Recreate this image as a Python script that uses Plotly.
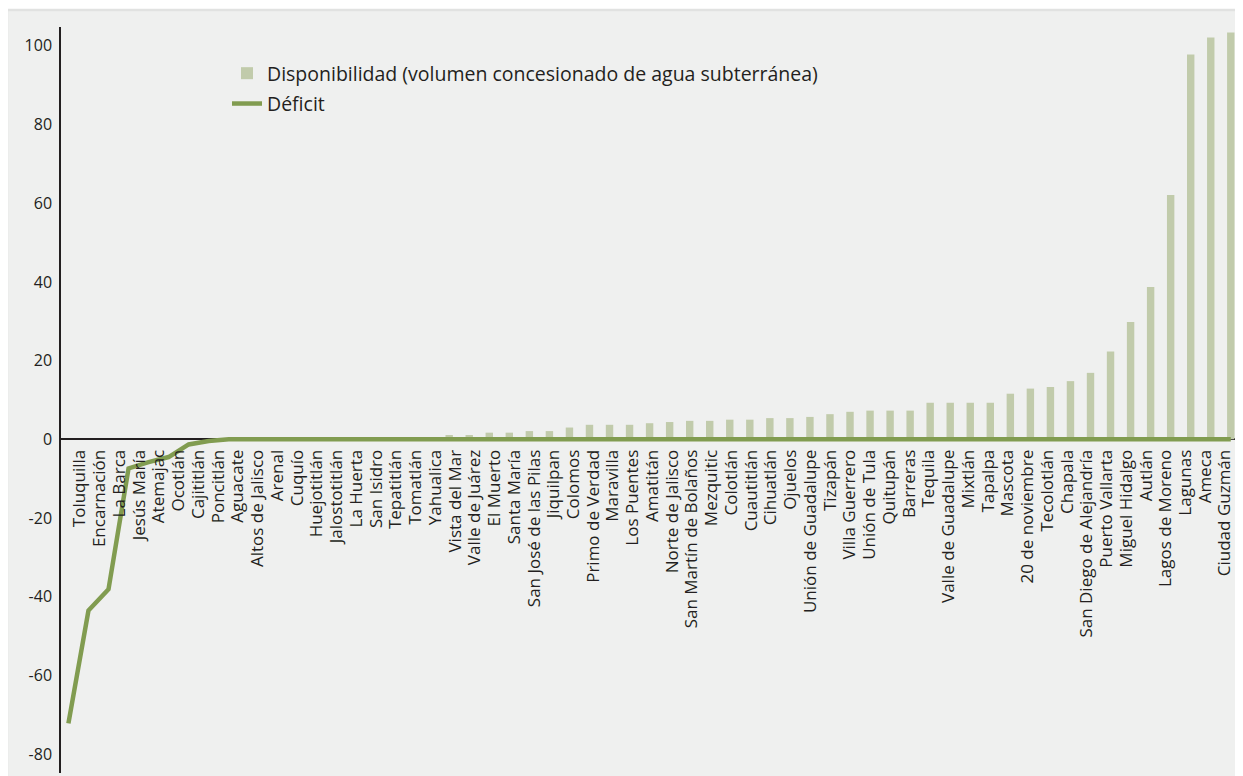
import plotly.graph_objects as go

categorias = [
    "Toluquilla", "Encarnación", "La Barca", "Jesús María", "Atemajac", "Ocotlán",
    "Cajititlán", "Poncitlán", "Aguacate", "Altos de Jalisco", "Arenal", "Cuquío",
    "Huejotitlán", "Jalostotitlán", "La Huerta", "San Isidro", "Tepatitlán", "Tomatlán",
    "Yahualica", "Vista del Mar", "Valle de Juárez", "El Muerto", "Santa María",
    "San José de las Pilas", "Jiquilpan", "Colomos", "Primo de Verdad", "Maravilla",
    "Los Puentes", "Amatitán", "Norte de Jalisco", "San Martín de Bolaños", "Mezquitic",
    "Colotlán", "Cuautitlán", "Cihuatlán", "Ojuelos", "Unión de Guadalupe", "Tizapán",
    "Villa Guerrero", "Unión de Tula", "Quitupán", "Barreras", "Tequila",
    "Valle de Guadalupe", "Mixtlán", "Tapalpa", "Mascota", "20 de noviembre",
    "Tecolotlán", "Chapala", "San Diego de Alejandría", "Puerto Vallarta",
    "Miguel Hidalgo", "Autlán", "Lagos de Moreno", "Lagunas", "Ameca", "Ciudad Guzmán",
]

disponibilidad = [
    0, 0, 0, 0, 0, 0, 0, 0, 0, 0, 0, 0, 0, 0, 0, 0, 0, 0, 0,
    1.1, 1.1, 1.7, 1.7, 2.1, 2.1, 3.0, 3.7, 3.7, 3.7, 4.1, 4.4, 4.7, 4.7,
    5.0, 5.0, 5.4, 5.4, 5.7, 6.4, 7.0, 7.3, 7.3, 7.3, 9.3, 9.3, 9.3, 9.3,
    11.6, 12.9, 13.3, 14.8, 16.9, 22.3, 29.8, 38.7, 62.1, 97.8, 102.1, 103.4,
]

deficit = [
    -72.2, -43.5, -38.1, -7.4, -5.8, -4.5, -1.3, -0.4,
] + [0] * 51

y_ticks = [-80, -60, -40, -20, 0, 20, 40, 60, 80, 100]
y_ticktext = [str(v) for v in y_ticks]

idx = list(range(len(categorias)))
# in the original, category labels sit on a slightly different pitch than the marks
label_pos = [0.574 + 0.9851 * i for i in idx]

BAR = "#c1cbab"
LINE = "#819c50"
BG = "#eff0ef"
TXT = "#231f20"
FONT = "Open Sans"

fig = go.Figure()
fig.add_trace(go.Bar(
    x=idx, y=disponibilidad, name="Disponibilidad (volumen concesionado de agua subterránea)",
    marker=dict(color=BAR, line=dict(width=0)), width=0.37, legendgroup="a",
))
fig.add_trace(go.Scatter(
    x=idx, y=deficit, name="Déficit", mode="lines",
    line=dict(color=LINE, width=4.5), legendgroup="b",
))

# page is offset by the 8px body margin
OFF = 8
W, H = 1243 - OFF, 776 - OFF
L, R, T, B = 61 - OFF, 7, 27 - OFF, 3
pw, ph = W - L - R, H - T - B

def px_to_paper_x(px):
    return (px - OFF - L) / pw

def px_to_paper_y(py):
    return (H - B - (py - OFF)) / ph

y_range = [-84.8, 104.8]
zero_pos = (0 - y_range[0]) / (y_range[1] - y_range[0])

fig.update_layout(
    width=W, height=H,
    margin=dict(l=L, r=R, t=T, b=B),
    paper_bgcolor="white",
    plot_bgcolor=BG,
    font=dict(family=FONT, color=TXT, size=15),
    showlegend=True,
    legend=dict(
        x=px_to_paper_x(227), y=px_to_paper_y(54), xanchor="left", yanchor="top",
        bgcolor="rgba(0,0,0,0)", font=dict(size=19.5, family=FONT, color=TXT),
        traceorder="grouped", tracegroupgap=2, itemwidth=30,
    ),
    xaxis=dict(
        range=[-0.37, 58.26],
        tickmode="array", tickvals=label_pos, ticktext=categorias,
        tickangle=-90, showgrid=False, zeroline=False, showline=False,
        ticks="", anchor="free", position=zero_pos,
        tickfont=dict(size=17, family=FONT, color=TXT),
        ticklabelstandoff=6,
    ),
    yaxis=dict(
        range=y_range, tickmode="array", tickvals=y_ticks, ticktext=y_ticktext,
        showgrid=False, zeroline=True, zerolinecolor=TXT, zerolinewidth=2,
        showline=True, linecolor=TXT, linewidth=1.5, ticks="",
        tickfont=dict(size=16, family=FONT, color=TXT),
        ticklabelstandoff=4,
    ),
    shapes=[dict(
        type="rect", xref="paper", yref="paper", layer="below",
        x0=px_to_paper_x(7), x1=px_to_paper_x(1245),
        y0=px_to_paper_y(778), y1=px_to_paper_y(10),
        fillcolor=BG, line=dict(color="#e1e2e1", width=2.5),
    )],
)

fig.write_html("out.html")
